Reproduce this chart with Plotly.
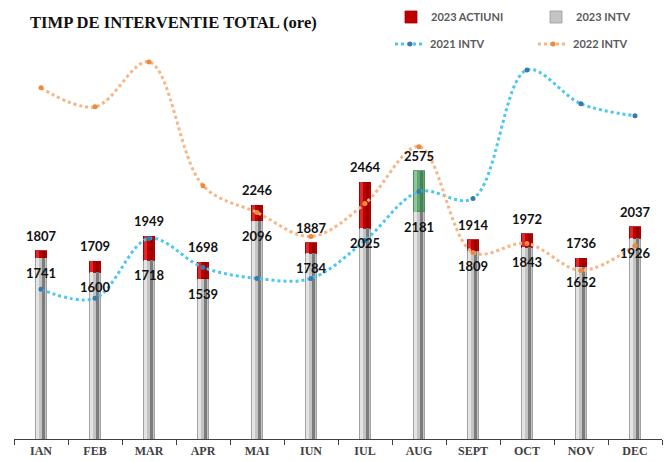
import plotly.graph_objects as go

# ---------------- data ----------------
months = ["IAN", "FEB", "MAR", "APR", "MAI", "IUN", "IUL", "AUG", "SEPT", "OCT", "NOV", "DEC"]
intv_2023 = [1741, 1600, 1718, 1539, 2096, 1784, 2025, 2181, 1809, 1843, 1652, 1926]
total_2023 = [1807, 1709, 1949, 1698, 2246, 1887, 2464, 2575, 1914, 1972, 1736, 2037]
intv_2021 = [1437, 1351, 1926, 1648, 1542, 1542, 1906, 2376, 2309, 3544, 3219, 3104]
intv_2022 = [3372, 3190, 3621, 2433, 2175, 1945, 2261, 2807, 1791, 1878, 1619, 1859]
actiuni_2023 = [t - i for t, i in zip(total_2023, intv_2023)]

highlight_month = "AUG"

# ---------------- styles ----------------
def cols(normal, special):
    return [special if m == highlight_month else normal for m in months]

Y_MAX = 3918
BW = 0.215

L, R, T, B = 14, 4, 30, 23
PW, PH = 666 - L - R, 462 - T - B


def px_x(px):
    return (px - L) / PW


def px_y(py):
    return (462 - B - py) / PH


fig = go.Figure()

# layer A (main body)
fig.add_trace(go.Bar(x=months, y=intv_2023, name="2023 INTV", width=BW,
                     marker=dict(color="#C4C4C4", line=dict(color="#9A9A9A", width=0.8)),
                     legend="legend2", xaxis="x", yaxis="y", hoverinfo="skip"))
fig.add_trace(go.Bar(x=months, y=actiuni_2023, name="2023 ACTIUNI", width=BW,
                     marker=dict(color=cols("#C00000", "#5FA66F"),
                                 line=dict(color=cols("#A00000", "#4A8A58"), width=0.8)),
                     legend="legend", xaxis="x", yaxis="y", hoverinfo="skip"))

# layer B (dark stripe)
fig.add_trace(go.Bar(x=months, y=intv_2023, width=0.05, offset=0.02, showlegend=False,
                     marker=dict(color="#7C7C7C", line=dict(width=0)), xaxis="x2", yaxis="y2",
                     hoverinfo="skip"))
fig.add_trace(go.Bar(x=months, y=actiuni_2023, width=0.05, offset=0.02, showlegend=False,
                     marker=dict(color=cols("#960000", "#44825A"), line=dict(width=0)),
                     xaxis="x2", yaxis="y2", hoverinfo="skip"))

# layer C (light highlight)
fig.add_trace(go.Bar(x=months, y=intv_2023, width=0.05, offset=-0.085, showlegend=False,
                     marker=dict(color="#E4E4E4", line=dict(width=0)), xaxis="x3", yaxis="y3",
                     hoverinfo="skip"))
fig.add_trace(go.Bar(x=months, y=actiuni_2023, width=0.05, offset=-0.085, showlegend=False,
                     marker=dict(color=cols("#DD2A2A", "#8CC79A"), line=dict(width=0)),
                     xaxis="x3", yaxis="y3", hoverinfo="skip"))

# lines
fig.add_trace(go.Scatter(x=months, y=intv_2021, name="2021 INTV", mode="lines+markers",
                         line=dict(color="#4CC6F2", width=3, dash="dot", shape="spline", smoothing=1),
                         marker=dict(color="#3A78B0", size=5),
                         legend="legend3", xaxis="x3", yaxis="y3", hoverinfo="skip"))
fig.add_trace(go.Scatter(x=months, y=intv_2022, name="2022 INTV", mode="lines+markers",
                         line=dict(color="#F7B584", width=3, dash="dot", shape="spline", smoothing=1),
                         marker=dict(color="#EE8A3C", size=5),
                         legend="legend4", xaxis="x3", yaxis="y3", hoverinfo="skip"))

# data labels
annotations = []
lab_font = dict(family="Lato", size=13, color="#111111", weight="bold")
for m, t, i in zip(months, total_2023, intv_2023):
    annotations.append(dict(x=m, y=t, xref="x", yref="y", text=str(t), showarrow=False,
                            yshift=15, font=lab_font))
    annotations.append(dict(x=m, y=i, xref="x", yref="y", text=str(i), showarrow=False,
                            yshift=-15, font=lab_font))

leg_font = dict(family="Lato", size=11, color="#595959", weight="bold")


def leg(px, py):
    return dict(orientation="h", x=px_x(px), y=px_y(py), xanchor="left", yanchor="middle",
                font=leg_font, bgcolor="rgba(0,0,0,0)")


fig.update_layout(
    width=666, height=462,
    margin=dict(l=L, r=R, t=T, b=B),
    paper_bgcolor="white", plot_bgcolor="white",
    barmode="stack",
    title=dict(text="TIMP DE INTERVENTIE TOTAL (ore)", x=30 / 666, xanchor="left",
               y=1 - 22 / 462, yanchor="middle",
               font=dict(family="Liberation Serif", size=16.6, color="#111111", weight="bold")),
    xaxis=dict(type="category", range=[-0.5, 11.5], showgrid=False, showline=True,
               linecolor="#404040", linewidth=1.3, ticks="outside", ticklen=5, tickcolor="#404040",
               tickwidth=1.3, tickson="boundaries",
               tickfont=dict(family="Liberation Serif", size=12, color="#404040", weight="bold"),
               zeroline=False),
    xaxis2=dict(type="category", range=[-0.5, 11.5], overlaying="x", visible=False),
    xaxis3=dict(type="category", range=[-0.5, 11.5], overlaying="x", visible=False),
    yaxis=dict(range=[0, Y_MAX], visible=False, showgrid=False, zeroline=False),
    yaxis2=dict(range=[0, Y_MAX], overlaying="y", visible=False),
    yaxis3=dict(range=[0, Y_MAX], overlaying="y", visible=False),
    legend=leg(391, 17),
    legend2=leg(536, 17),
    legend3=leg(390, 44),
    legend4=leg(533, 44),
    annotations=annotations,
    showlegend=True,
)

fig.write_html("out.html", config={"displayModeBar": False},
               post_script="document.body.style.margin='0px';")
